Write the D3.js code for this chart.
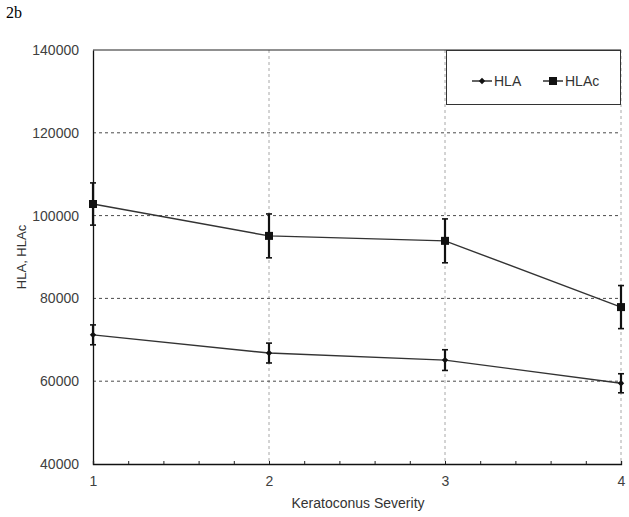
<!DOCTYPE html>
<html><head><meta charset="utf-8">
<script src="https://cdn.jsdelivr.net/npm/d3@7"></script>
<style>body{margin:0;background:#fff}svg{display:block}</style>
</head><body>
<svg id="c" width="629" height="517"></svg>
<script>
const severity = [1, 2, 3, 4];
const hla = [71200, 66800, 65100, 59500];
const hlaErr = [2400, 2400, 2500, 2300];
const hlac = [102800, 95100, 93900, 77900];
const hlacErr = [5100, 5300, 5300, 5200];
const yTicks = [40000, 60000, 80000, 100000, 120000, 140000];
const xTicks = [1, 2, 3, 4];

const svg = d3.select("#c");
const L = 93, R = 621, T = 50, B = 464;
const x = d3.scaleLinear().domain([1, 4]).range([L, R]);
const y = d3.scaleLinear().domain([40000, 140000]).range([B, T]);
const font = "'Liberation Sans', Arial, sans-serif";

svg.append("text").attr("x", 6).attr("y", 18).attr("font-family", "'Liberation Serif', 'Times New Roman', serif")
  .attr("font-size", 16).attr("fill", "#000").text("2b");

// vertical grid lines
svg.append("g").selectAll("line").data(xTicks.filter(d => d > 1)).join("line")
  .attr("x1", d => x(d)).attr("x2", d => x(d)).attr("y1", T).attr("y2", B)
  .attr("stroke", "#a8a8a8").attr("stroke-width", 1).attr("stroke-dasharray", "3,3");

// horizontal grid lines
svg.append("g").selectAll("line").data(yTicks.filter(d => d > 40000 && d < 140000)).join("line")
  .attr("x1", L).attr("x2", R).attr("y1", d => y(d)).attr("y2", d => y(d))
  .attr("stroke", "#4a4a4a").attr("stroke-width", 1).attr("stroke-dasharray", "3,3");

// top border
svg.append("line").attr("x1", L).attr("x2", R).attr("y1", y(140000)).attr("y2", y(140000))
  .attr("stroke", "#222").attr("stroke-width", 1.2);

// y axis
const yAxis = d3.axisLeft(y).tickValues(yTicks).tickSize(0).tickPadding(14).tickFormat(d3.format("d"));
const gy = svg.append("g").attr("transform", `translate(${L},0)`).call(yAxis);
gy.select(".domain").attr("stroke", "#111").attr("stroke-width", 1.3);
gy.selectAll("text").attr("font-family", font).attr("font-size", 14).attr("fill", "#404040");

// x axis
const xAxis = d3.axisBottom(x).tickValues(d3.range(1, 4.001, 0.2)).tickSize(-3).tickPadding(0)
  .tickFormat(d => Math.abs(d - Math.round(d)) < 1e-6 ? d3.format("d")(Math.round(d)) : "");
const gx = svg.append("g").attr("transform", `translate(0,${B})`).call(xAxis);
gx.select(".domain").attr("stroke", "#111").attr("stroke-width", 1.3);
gx.selectAll("line").attr("stroke", "#222");
gx.selectAll("text").attr("font-family", font).attr("font-size", 14).attr("fill", "#404040").attr("dy", "1.6em");

// axis titles
svg.append("text").attr("x", 358).attr("y", 508).attr("text-anchor", "middle")
  .attr("font-family", font).attr("font-size", 14).attr("fill", "#333").text("Keratoconus  Severity");
svg.append("text").attr("transform", `translate(26,${(T + B) / 2}) rotate(-90)`).attr("text-anchor", "middle")
  .attr("font-family", font).attr("font-size", 13).attr("fill", "#333").text("HLA, HLAc");

const series = [
  {name: "HLA", vals: hla, err: hlaErr, marker: "diamond"},
  {name: "HLAc", vals: hlac, err: hlacErr, marker: "square"}
];
const line = d3.line().x((d, i) => x(severity[i])).y(d => y(d));

function drawMarker(g, type, cx, cy) {
  if (type === "square") {
    g.append("rect").attr("x", cx - 4).attr("y", cy - 4).attr("width", 8).attr("height", 8).attr("fill", "#111");
  } else {
    const s = 3.2;
    g.append("path").attr("d", `M${cx},${cy - s}L${cx + s},${cy}L${cx},${cy + s}L${cx - s},${cy}Z`).attr("fill", "#111");
  }
}

series.forEach(s => {
  const g = svg.append("g");
  g.append("path").attr("d", line(s.vals)).attr("fill", "none").attr("stroke", "#333").attr("stroke-width", 1.4);
  s.vals.forEach((v, i) => {
    const cx = x(severity[i]);
    const y1 = y(v + s.err[i]), y2 = y(v - s.err[i]);
    g.append("line").attr("x1", cx).attr("x2", cx).attr("y1", y1).attr("y2", y2).attr("stroke", "#111").attr("stroke-width", 2.2);
    [y1, y2].forEach(yy => g.append("line").attr("x1", cx - 3).attr("x2", cx + 3).attr("y1", yy).attr("y2", yy)
      .attr("stroke", "#111").attr("stroke-width", 1.6));
    drawMarker(g, s.marker, cx, y(v));
  });
});

// legend
const lg = svg.append("g");
lg.append("rect").attr("x", 446.5).attr("y", 50.5).attr("width", 174).attr("height", 54)
  .attr("fill", "#fff").attr("stroke", "#333").attr("stroke-width", 1);
const legendX = [472, 543];
series.forEach((s, i) => {
  const lx = legendX[i], ly = 81;
  lg.append("line").attr("x1", lx).attr("x2", lx + 20).attr("y1", ly).attr("y2", ly).attr("stroke", "#222").attr("stroke-width", 1.4);
  drawMarker(lg, s.marker, lx + 10, ly);
  lg.append("text").attr("x", lx + 22).attr("y", ly + 5).attr("font-family", font).attr("font-size", 14)
    .attr("fill", "#333").text(s.name);
});
</script>
</body></html>
